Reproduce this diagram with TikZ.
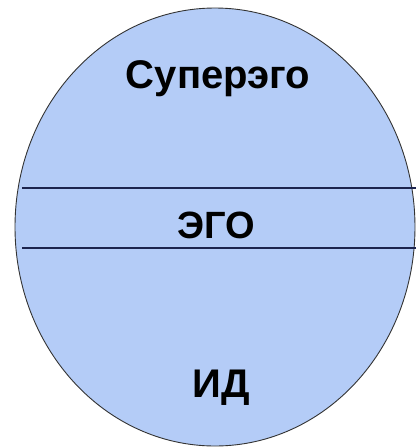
\documentclass[tikz,border=0pt]{standalone}
\usepackage{fontspec}
\setmainfont{Liberation Sans}
\usepackage{xcolor}
\usepackage{tikz}
\definecolor{psyfill}{RGB}{180,204,247}
\definecolor{psyline}{RGB}{28,36,78}
\tikzset{
  psy/.style={draw=black!80,fill=psyfill,line width=0.9pt},
  layer/.style={draw=psyline,line width=1.2pt},
  lbl/.style={anchor=base,inner sep=0pt,font=\bfseries\fontsize{40}{48}\selectfont}
}

\begin{document}
\begin{tikzpicture}[x=1pt,y=-1pt]
\useasboundingbox (0,0) rectangle (416,448);
\draw[psy] (215,227) ellipse [x radius=200,y radius=219];
\coordinate (topL) at (22,188); \coordinate (topR) at (416,188);
\coordinate (botL) at (22,248); \coordinate (botR) at (416,248);
\draw[layer] (topL) -- (topR);
\draw[layer] (botL) -- (botR);
\node[lbl] (superego) at (218,88) {Суперэго};
\node[lbl,font=\bfseries\fontsize{38}{46}\selectfont] (ego) at (216,238) {ЭГО};
\node[lbl] (id) at (221,397) {ИД};
\end{tikzpicture}
\end{document}
